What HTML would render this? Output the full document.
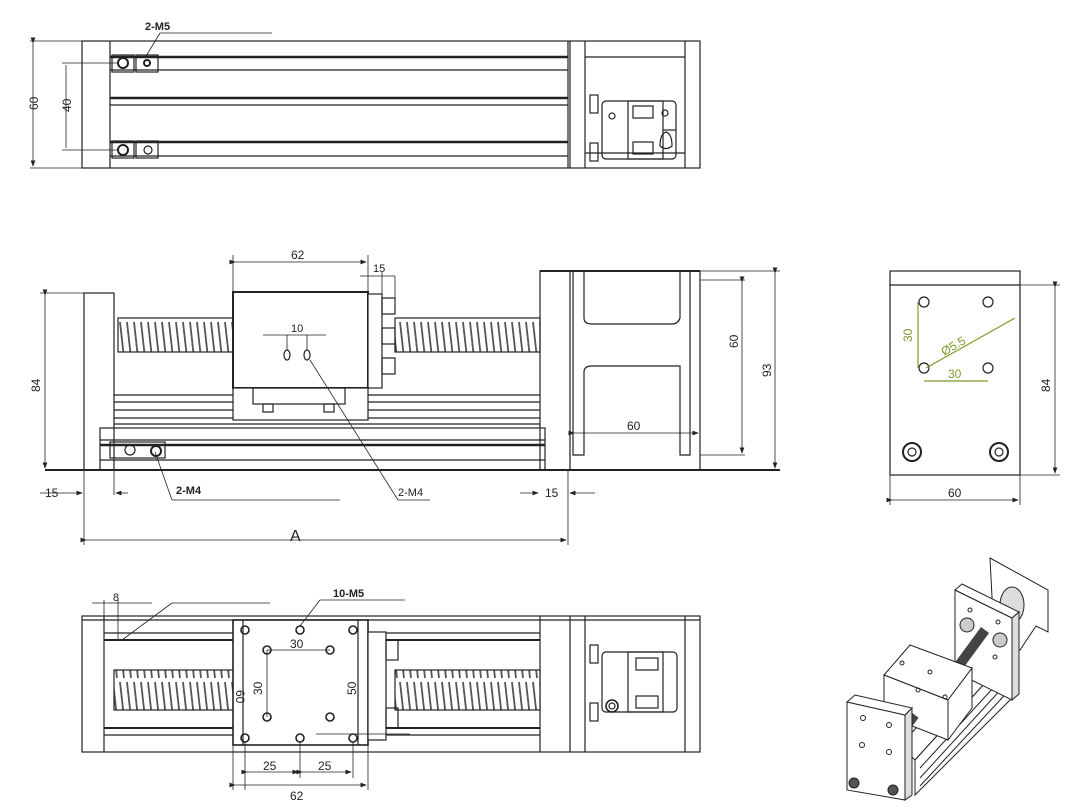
<!DOCTYPE html>
<html><head><meta charset="utf-8"><style>
html,body{margin:0;padding:0;background:#fff}
svg{display:block}
text{font-family:"Liberation Sans",sans-serif;fill:#222}
</style></head><body>
<svg width="1079" height="810" viewBox="0 0 1079 810" xmlns="http://www.w3.org/2000/svg">
<defs>
<pattern id="scr" width="7" height="40" patternUnits="userSpaceOnUse">
<rect width="7" height="40" fill="#fff"/>
<path d="M1 2 L5 38" stroke="#555" stroke-width="1.8"/>
</pattern>
<marker id="ar" markerWidth="8" markerHeight="6" refX="7" refY="3" orient="auto"><path d="M0,0 L8,3 L0,6z" fill="#222"/></marker>
</defs>
<g fill="none" stroke="#222" stroke-width="1.2">
<!-- ===== TOP VIEW ===== -->
<rect x="82" y="41" width="618" height="127"/>
<line x1="110" y1="41" x2="110" y2="168"/>
<line x1="568" y1="41" x2="568" y2="168"/>
<line x1="585" y1="41" x2="585" y2="168"/>
<line x1="685" y1="41" x2="685" y2="168"/>
<line x1="570" y1="41" x2="570" y2="168"/>
<line x1="110" y1="57" x2="568" y2="57" stroke-width="2.5"/>
<line x1="110" y1="70" x2="568" y2="70"/>
<line x1="110" y1="98" x2="568" y2="98" stroke-width="2.5"/>
<line x1="110" y1="105" x2="568" y2="105"/>
<line x1="110" y1="142" x2="568" y2="142" stroke-width="2.5"/>
<line x1="110" y1="156" x2="568" y2="156"/>
<line x1="585" y1="57" x2="685" y2="57"/>
<line x1="585" y1="153" x2="685" y2="153"/>
<rect x="602" y="101" width="74" height="58" rx="4"/>
<rect x="628" y="101" width="35" height="58"/>
<rect x="633" y="106" width="20" height="12"/>
<rect x="633" y="142" width="20" height="12"/>
<line x1="663" y1="130" x2="676" y2="130"/>
<rect x="590" y="95" width="8" height="18"/>
<rect x="590" y="143" width="8" height="18"/>
<circle cx="612" cy="116" r="3"/><circle cx="665" cy="113" r="3"/>
<path d="M660 146 q0 -12 6 -14 q6 2 6 14 q-6 5 -12 0z"/>
<rect x="112" y="55" width="22" height="17"/><rect x="136" y="55" width="22" height="17"/>
<circle cx="123" cy="63" r="5" stroke-width="2"/><circle cx="147" cy="63" r="3" stroke-width="2"/>
<rect x="112" y="141" width="22" height="17"/><rect x="136" y="141" width="22" height="17"/>
<circle cx="123" cy="150" r="5" stroke-width="2"/><circle cx="148" cy="150" r="4"/>
<line x1="30" y1="41" x2="82" y2="41" stroke-width="0.8"/>
<line x1="30" y1="168" x2="82" y2="168" stroke-width="0.8"/>
<line x1="33" y1="43" x2="33" y2="166" stroke-width="0.8" marker-end="url(#ar)" marker-start="url(#ar)"/>
<line x1="62" y1="63" x2="118" y2="63" stroke-width="0.8"/>
<line x1="62" y1="150" x2="118" y2="150" stroke-width="0.8"/>
<line x1="66" y1="65" x2="66" y2="148" stroke-width="0.8"/>
<line x1="145" y1="58" x2="160" y2="33" stroke-width="0.8"/>
<line x1="160" y1="33" x2="272" y2="33" stroke-width="0.8"/>

<!-- ===== FRONT VIEW ===== -->
<line x1="45" y1="470" x2="780" y2="470" stroke-width="2"/>
<rect x="84" y="293" width="30" height="177"/>
<rect x="100" y="428" width="445" height="42"/>
<line x1="100" y1="440" x2="545" y2="440"/>
<line x1="100" y1="445" x2="545" y2="445" stroke-width="2.5"/>
<line x1="100" y1="460" x2="545" y2="460"/>
<line x1="114" y1="395" x2="540" y2="395"/>
<line x1="114" y1="402" x2="540" y2="402"/>
<line x1="114" y1="410" x2="540" y2="410"/>
<line x1="114" y1="418" x2="540" y2="418"/>
<line x1="114" y1="424" x2="540" y2="424"/>
<rect x="118" y="318" width="115" height="34" fill="url(#scr)"/>
<rect x="395" y="318" width="145" height="34" fill="url(#scr)"/>
<rect x="233" y="292" width="135" height="96" fill="#fff" stroke-width="2"/>
<rect x="233" y="388" width="135" height="32" fill="#fff"/>
<rect x="253" y="388" width="92" height="16"/>
<rect x="263" y="404" width="10" height="8"/><rect x="324" y="404" width="10" height="8"/>
<rect x="368" y="294" width="14" height="94" fill="#fff"/>
<rect x="382" y="298" width="13" height="16"/><rect x="382" y="328" width="13" height="16"/><rect x="382" y="358" width="13" height="16"/>
<ellipse cx="287" cy="355" rx="3" ry="5"/><ellipse cx="307" cy="355" rx="3" ry="5"/>
<rect x="540" y="271" width="30" height="199"/>
<line x1="540" y1="271" x2="700" y2="271" stroke-width="2"/>
<line x1="700" y1="271" x2="700" y2="470"/>
<path d="M573 271 V455 H584 V372 Q584 366 592 366 H680 V455 H690 V271 H680 V318 Q678 324 672 324 H592 Q584 324 584 318 V271"/>
<rect x="110" y="442" width="55" height="16"/>
<circle cx="130" cy="450" r="5"/><circle cx="156" cy="451" r="5" stroke-width="2"/>
<line x1="233" y1="292" x2="233" y2="255" stroke-width="0.8"/>
<line x1="368" y1="292" x2="368" y2="255" stroke-width="0.8"/>
<line x1="235" y1="262" x2="366" y2="262" stroke-width="0.8" marker-end="url(#ar)" marker-start="url(#ar)"/>
<line x1="382" y1="294" x2="382" y2="272" stroke-width="0.8"/>
<line x1="360" y1="276" x2="395" y2="276" stroke-width="0.8"/>
<line x1="395" y1="276" x2="395" y2="300" stroke-width="0.8"/>
<line x1="263" y1="335" x2="326" y2="335" stroke-width="0.8"/>
<line x1="287" y1="335" x2="287" y2="350" stroke-width="0.8"/>
<line x1="307" y1="335" x2="307" y2="350" stroke-width="0.8"/>
<line x1="40" y1="293" x2="84" y2="293" stroke-width="0.8"/>
<line x1="45" y1="295" x2="45" y2="468" stroke-width="0.8" marker-end="url(#ar)" marker-start="url(#ar)"/>
<line x1="700" y1="280" x2="745" y2="280" stroke-width="0.8"/>
<line x1="700" y1="455" x2="745" y2="455" stroke-width="0.8"/>
<line x1="742" y1="282" x2="742" y2="453" stroke-width="0.8" marker-end="url(#ar)" marker-start="url(#ar)"/>
<line x1="700" y1="271" x2="780" y2="271" stroke-width="0.8"/>
<line x1="775" y1="273" x2="775" y2="468" stroke-width="0.8" marker-end="url(#ar)" marker-start="url(#ar)"/>
<line x1="574" y1="433" x2="698" y2="433" stroke-width="0.8" marker-end="url(#ar)" marker-start="url(#ar)"/>
<line x1="84" y1="470" x2="84" y2="545" stroke-width="0.8"/>
<line x1="568" y1="470" x2="568" y2="545" stroke-width="0.8"/>
<line x1="86" y1="540" x2="566" y2="540" stroke-width="0.8" marker-end="url(#ar)" marker-start="url(#ar)"/>
<line x1="114" y1="470" x2="114" y2="495" stroke-width="0.8"/>
<line x1="40" y1="493" x2="82" y2="493" stroke-width="0.8" marker-end="url(#ar)"/>
<line x1="128" y1="493" x2="116" y2="493" stroke-width="0.8" marker-end="url(#ar)"/>
<line x1="520" y1="493" x2="538" y2="493" stroke-width="0.8" marker-end="url(#ar)"/>
<line x1="595" y1="493" x2="570" y2="493" stroke-width="0.8" marker-end="url(#ar)"/>
<line x1="155" y1="452" x2="172" y2="500" stroke-width="0.8"/>
<line x1="172" y1="500" x2="340" y2="500" stroke-width="0.8"/>
<line x1="310" y1="360" x2="398" y2="500" stroke-width="0.8"/>
<line x1="398" y1="500" x2="430" y2="500" stroke-width="0.8"/>

<!-- ===== SIDE VIEW ===== -->
<rect x="890" y="271" width="130" height="204"/>
<line x1="890" y1="285" x2="1020" y2="285"/>
<circle cx="924" cy="302" r="5"/><circle cx="988" cy="302" r="5"/>
<circle cx="924" cy="368" r="5"/><circle cx="988" cy="368" r="5"/>
<circle cx="912" cy="452" r="9" stroke-width="2"/><circle cx="912" cy="452" r="4"/>
<circle cx="999" cy="452" r="9" stroke-width="2"/><circle cx="999" cy="452" r="4"/>
<line x1="1020" y1="285" x2="1060" y2="285" stroke-width="0.8"/>
<line x1="1020" y1="475" x2="1060" y2="475" stroke-width="0.8"/>
<line x1="1055" y1="287" x2="1055" y2="473" stroke-width="0.8" marker-end="url(#ar)" marker-start="url(#ar)"/>
<line x1="890" y1="475" x2="890" y2="505" stroke-width="0.8"/>
<line x1="1020" y1="475" x2="1020" y2="505" stroke-width="0.8"/>
<line x1="892" y1="500" x2="1018" y2="500" stroke-width="0.8" marker-end="url(#ar)" marker-start="url(#ar)"/>
<g stroke="#7a9a2a">
<line x1="918" y1="302" x2="918" y2="368"/>
<line x1="924" y1="381" x2="988" y2="381"/>
<line x1="926" y1="368" x2="1015" y2="318"/>
</g>

<!-- ===== BOTTOM VIEW ===== -->
<rect x="82" y="616" width="618" height="136"/>
<line x1="82" y1="620" x2="700" y2="620"/>
<line x1="104" y1="616" x2="104" y2="752"/>
<line x1="540" y1="616" x2="540" y2="752"/>
<line x1="570" y1="616" x2="570" y2="752"/>
<line x1="585" y1="616" x2="585" y2="752"/>
<line x1="685" y1="616" x2="685" y2="752"/>
<line x1="104" y1="633" x2="540" y2="633"/><line x1="104" y1="640" x2="540" y2="640" stroke-width="2"/>
<line x1="104" y1="728" x2="540" y2="728" stroke-width="2"/><line x1="104" y1="735" x2="540" y2="735"/>
<rect x="114" y="670" width="120" height="40" fill="url(#scr)"/>
<rect x="395" y="670" width="145" height="40" fill="url(#scr)"/>
<rect x="233" y="620" width="135" height="125" fill="#fff" stroke-width="1.6"/>
<line x1="243" y1="620" x2="243" y2="745"/><line x1="358" y1="620" x2="358" y2="745"/>
<rect x="368" y="632" width="18" height="108" fill="#fff"/>
<rect x="386" y="640" width="12" height="20"/><rect x="386" y="708" width="12" height="20"/>
<rect x="602" y="652" width="75" height="60" rx="4"/>
<rect x="628" y="652" width="35" height="60"/>
<rect x="636" y="658" width="22" height="12"/><rect x="636" y="696" width="22" height="12"/>
<circle cx="612" cy="706" r="6" stroke-width="1.6"/><circle cx="612" cy="706" r="3"/>
<rect x="590" y="645" width="8" height="18"/><rect x="590" y="703" width="8" height="18"/>
<g stroke-width="1.6">
<circle cx="245" cy="630" r="4"/><circle cx="300" cy="630" r="4"/><circle cx="353" cy="630" r="4"/>
<circle cx="267" cy="650" r="4"/><circle cx="330" cy="650" r="4"/>
<circle cx="267" cy="717" r="4"/><circle cx="330" cy="717" r="4"/>
<circle cx="245" cy="738" r="4"/><circle cx="300" cy="738" r="4"/><circle cx="353" cy="738" r="4"/>
</g>
<line x1="267" y1="650" x2="330" y2="650" stroke-width="0.8"/>
<line x1="267" y1="650" x2="267" y2="717" stroke-width="0.8"/>
<line x1="245" y1="742" x2="245" y2="790" stroke-width="0.8"/>
<line x1="300" y1="742" x2="300" y2="778" stroke-width="0.8"/>
<line x1="353" y1="742" x2="353" y2="778" stroke-width="0.8"/>
<line x1="233" y1="745" x2="233" y2="790" stroke-width="0.8"/>
<line x1="368" y1="745" x2="368" y2="790" stroke-width="0.8"/>
<line x1="247" y1="772" x2="298" y2="772" stroke-width="0.8" marker-end="url(#ar)" marker-start="url(#ar)"/>
<line x1="302" y1="772" x2="351" y2="772" stroke-width="0.8" marker-end="url(#ar)" marker-start="url(#ar)"/>
<line x1="235" y1="785" x2="366" y2="785" stroke-width="0.8" marker-end="url(#ar)" marker-start="url(#ar)"/>
<line x1="300" y1="626" x2="320" y2="600" stroke-width="0.8"/>
<line x1="320" y1="600" x2="405" y2="600" stroke-width="0.8"/>
<line x1="92" y1="603" x2="152" y2="603" stroke-width="0.8"/>
<line x1="104" y1="600" x2="104" y2="620" stroke-width="0.8"/><line x1="118" y1="600" x2="118" y2="640" stroke-width="0.8"/>
<line x1="122" y1="640" x2="172" y2="603" stroke-width="0.8"/><line x1="172" y1="603" x2="270" y2="603" stroke-width="0.8"/>
<line x1="316" y1="734" x2="410" y2="734" stroke-width="0.8"/>

<!-- ===== ISO VIEW ===== -->
<g stroke-width="1">
<!-- motor mount -->
<path d="M990 558 L1048 590 L1048 632 L1036 626 L1020 650 L994 636z" fill="#fff"/>
<ellipse cx="1012" cy="605" rx="12" ry="18" fill="#ddd"/>
<!-- rail -->
<path d="M900 745 L1000 640 L1015 650 L915 760z" fill="#fff"/>
<path d="M915 760 L1015 650 L1015 695 L915 795z" fill="#fff"/>
<line x1="920" y1="768" x2="1015" y2="664"/>
<line x1="920" y1="778" x2="1015" y2="674"/>
<line x1="920" y1="786" x2="1015" y2="684"/>
<!-- far plate -->
<path d="M955 590 L1012 618 L1012 700 L955 672z" fill="#fff"/>
<path d="M955 590 L962 584 L1019 612 L1012 618z" fill="#fff"/>
<path d="M1012 618 L1019 612 L1019 694 L1012 700z" fill="#ddd"/>
<circle cx="967" cy="625" r="7" fill="#ccc"/><circle cx="1000" cy="640" r="7" fill="#ccc"/>
<circle cx="970" cy="610" r="2"/><circle cx="998" cy="622" r="2"/><circle cx="995" cy="657" r="2"/>
<!-- screw -->
<line x1="930" y1="705" x2="985" y2="630" stroke="#444" stroke-width="10"/>
<!-- carriage -->
<path d="M884 675 L910 645 L972 668 L948 700z" fill="#fff"/>
<path d="M884 675 L948 700 L948 740 L884 715z" fill="#fff"/>
<path d="M948 700 L972 668 L972 708 L948 740z" fill="#fff"/>
<line x1="900" y1="735" x2="915" y2="715" stroke="#444" stroke-width="9"/>
<!-- front plate -->
<path d="M847 702 L905 715 L905 800 L847 790z" fill="#fff"/>
<path d="M905 715 L912 708 L912 795 L905 800z" fill="#ddd"/>
<path d="M847 702 L855 695 L912 708 L905 715z" fill="#fff"/>
<circle cx="854" cy="783" r="5" fill="#555"/><circle cx="893" cy="790" r="5" fill="#555"/>
<circle cx="863" cy="718" r="2.5"/><circle cx="889" cy="725" r="2.5"/><circle cx="862" cy="745" r="2.5"/><circle cx="889" cy="752" r="2.5"/>
<circle cx="902" cy="663" r="2"/><circle cx="930" cy="672" r="2"/><circle cx="918" cy="690" r="2"/><circle cx="945" cy="697" r="2"/>
</g>
</g>
<g font-size="12">
<text x="145" y="30" font-weight="bold" font-size="11">2-M5</text>
<text x="38" y="110" transform="rotate(-90 38 110)">60</text>
<text x="71" y="112" transform="rotate(-90 71 112)">40</text>
<text x="291" y="259">62</text>
<text x="373" y="272" font-size="11">15</text>
<text x="291" y="332" font-size="11">10</text>
<text x="40" y="392" transform="rotate(-90 40 392)">84</text>
<text x="738" y="348" transform="rotate(-90 738 348)">60</text>
<text x="771" y="377" transform="rotate(-90 771 377)">93</text>
<text x="627" y="430">60</text>
<text x="45" y="497">15</text>
<text x="545" y="497">15</text>
<text x="176" y="494" font-weight="bold" font-size="11">2-M4</text>
<text x="398" y="496" font-size="11">2-M4</text>
<text x="290" y="541" font-family="Liberation Serif" font-size="16">A</text>
<text x="1050" y="392" transform="rotate(-90 1050 392)">84</text>
<text x="948" y="497">60</text>
<text x="113" y="601" font-size="11">8</text>
<text x="333" y="597" font-weight="bold" font-size="11">10-M5</text>
<text x="290" y="648" font-size="12">30</text>
<text x="262" y="695" font-size="12" transform="rotate(-90 262 695)">30</text>
<text x="236" y="690" font-size="12" transform="rotate(90 236 690)">60</text>
<text x="356" y="695" font-size="12" transform="rotate(-90 356 695)">50</text>
<text x="263" y="770">25</text><text x="318" y="770">25</text>
<text x="290" y="800">62</text>
</g>
<g font-size="12">
<text x="912" y="342" transform="rotate(-90 912 342)" style="fill:#7a9a2a">30</text>
<text x="948" y="378" style="fill:#7a9a2a">30</text>
<text x="944" y="356" transform="rotate(-30 944 356)" style="fill:#7a9a2a">Ø5.5</text>
</g>
</svg>
</body></html>
